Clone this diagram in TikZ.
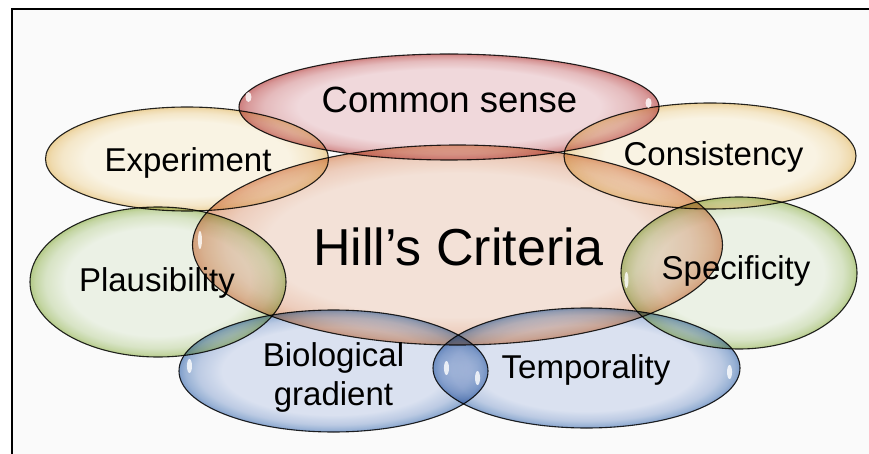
\documentclass[tikz,border=0pt]{standalone}
\usepackage{fontspec}
\setmainfont{Liberation Sans}
\usetikzlibrary{shapes.geometric}
\definecolor{paper}{HTML}{FAFAFA}
\definecolor{redin}{HTML}{F5DDE0}\definecolor{redout}{HTML}{C0504D}
\definecolor{yelin}{HTML}{FEF8E8}\definecolor{yelout}{HTML}{E9C272}
\definecolor{orain}{HTML}{F8E6DC}\definecolor{oraout}{HTML}{DC8A5C}
\definecolor{grein}{HTML}{F0F6EA}\definecolor{greout}{HTML}{98B956}
\definecolor{bluin}{HTML}{DFE6F5}\definecolor{bluout}{HTML}{4F7DBA}
\newcommand\rimshade[3]{\pgfdeclareradialshading{#1}{\pgfpointorigin}{color(0bp)=(#2);color(18bp)=(#2);color(22bp)=(#3!22!#2);color(24bp)=(#3!45!#2);color(25bp)=(#3!65!#2);color(50bp)=(#3!65!#2)}}
\rimshade{redrim}{redin}{redout}
\rimshade{yelrim}{yelin}{yelout}
\rimshade{orarim}{orain}{oraout}
\rimshade{grerim}{grein}{greout}
\rimshade{blurim}{bluin}{bluout}
\begin{document}
\begin{tikzpicture}[x=1pt,y=-1pt,
  bubble/.style={ellipse,draw=black!85,line width=1.1pt,inner sep=0pt,shade,shading=#1,blend mode=multiply},
  lbl/.style={font=\fontsize{33}{39}\selectfont,inner sep=0pt,anchor=base},
  glint/.style={fill=white,opacity=0.8}]
\useasboundingbox (0,0) rectangle (869,454);
\fill[white] (0,0) rectangle (869,454);
\fill[paper] (12,9) rectangle (869,454);
\draw[line width=2pt] (12,454) -- (12,9) -- (869,9);
\node[bubble=orarim,minimum width=530pt,minimum height=200pt] (hill) at (457.5,245) {};
\node[bubble=redrim,minimum width=420pt,minimum height=106pt] (common) at (449,107) {};
\node[bubble=yelrim,minimum width=283pt,minimum height=104pt] (experiment) at (187,159) {};
\node[bubble=yelrim,minimum width=292pt,minimum height=106pt] (consistency) at (710,156) {};
\node[bubble=grerim,minimum width=256pt,minimum height=150pt] (plausibility) at (158,282) {};
\node[bubble=grerim,minimum width=236pt,minimum height=152pt] (specificity) at (739,273) {};
\node[bubble=blurim,minimum width=309pt,minimum height=122pt] (biological) at (333.5,371) {};
\node[bubble=blurim,minimum width=307pt,minimum height=120pt] (temporality) at (586.5,368) {};
\fill[glint] ([shift={(10,-10)}]common.west) ellipse [x radius=3pt,y radius=5pt];
\fill[glint] ([shift={(-11,-4)}]common.east) ellipse [x radius=3pt,y radius=5pt];
\fill[glint] ([shift={(8,-5)}]hill.west) ellipse [x radius=2pt,y radius=9pt];
\fill[glint] ([shift={(6,7)}]specificity.west) ellipse [x radius=2pt,y radius=8pt];
\fill[glint] ([shift={(11,-5)}]biological.west) ellipse [x radius=2.5pt,y radius=7pt];
\fill[glint] ([shift={(-11,7)}]biological.east) ellipse [x radius=2.5pt,y radius=7pt];
\fill[glint] ([shift={(14,0)}]temporality.west) ellipse [x radius=2.5pt,y radius=7pt];
\fill[glint] ([shift={(-11,4)}]temporality.east) ellipse [x radius=2.5pt,y radius=7pt];
\node[lbl,font=\fontsize{52}{60}\selectfont] (hilltext) at (458.5,265) {Hill’s Criteria};
\node[lbl,font=\fontsize{36.5}{42}\selectfont] (commontext) at (449.5,113) {Common sense};
\node[lbl] (experimenttext) at (188,172) {Experiment};
\node[lbl] (consistencytext) at (713.5,166) {Consistency};
\node[lbl] (plausibilitytext) at (157,291) {Plausibility};
\node[lbl] (specificitytext) at (736,279) {Specificity};
\node[lbl,anchor=center,align=center] (biologicaltext) at (333.5,377) {Biological\\gradient};
\node[lbl] (temporalitytext) at (586,378) {Temporality};
\end{tikzpicture}
\end{document}
